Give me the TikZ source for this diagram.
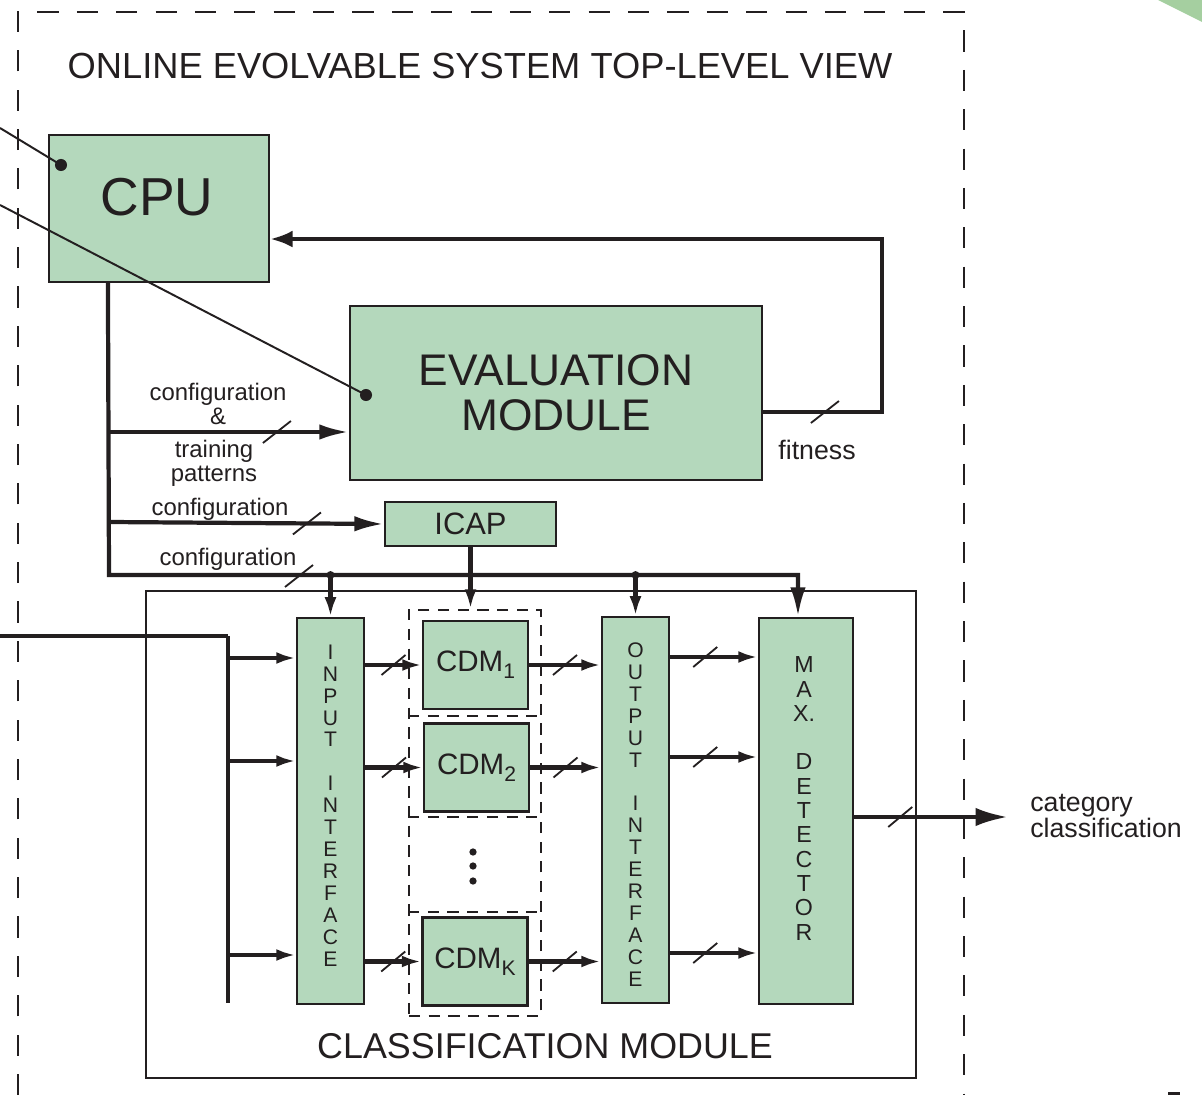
\documentclass[tikz,border=0pt]{standalone}
\usepackage{fontspec}
\setmainfont{Liberation Sans}
\usetikzlibrary{arrows.meta,positioning,calc}

\definecolor{modgreen}{RGB}{180,216,188}
\definecolor{leafgreen}{RGB}{165,207,160}
\definecolor{ink}{RGB}{35,31,32}

\newcommand{\fs}[2]{\fontsize{#1}{#2}\selectfont}
% lowered index for the CDM names
\newcommand{\idx}[1]{\raisebox{-0.45ex}{\fs{15}{15}#1}}
% bus width marks (small and large slash)
\newcommand{\busmark}[1]{\draw[slash] (#1) ++(-12,10) -- ++(24,-20);}
\newcommand{\bigmark}[1]{\draw[slash] (#1) ++(-14,11) -- ++(28,-22);}

\begin{document}
\begin{tikzpicture}[
    x=0.025cm, y=-0.025cm,
    every node/.style={text=ink, inner sep=0pt},
    block/.style={draw=ink, line width=1.5pt, fill=modgreen},
    wire/.style={draw=ink, line width=3pt},
    arr/.style={wire, -{Latex[length=14pt,width=8.5pt]}},
    bigarr/.style={wire, -{Latex[length=21pt,width=11pt]}},
    fbarr/.style={wire, -{Latex[length=16pt,width=12pt]}},
    outarr/.style={wire, -{Latex[length=23pt,width=13pt]}},
    slash/.style={draw=ink, line width=1.3pt},
    probe/.style={draw=ink, line width=1.4pt},
    lbl/.style={font=\fs{17}{17}, align=center},
    letters/.style={align=center, font=\fs{15}{15.6}},
    cdmbox/.style={block, minimum width=2.625cm, minimum height=2.2cm, font=\fs{21}{24}},
    slotline/.style={draw=ink, line width=1.3pt, dash pattern=on 8pt off 6pt}
]
    \useasboundingbox (0,0) rectangle (1202,1095);

    % corner leaf and edge mark
    \fill[leafgreen] (1158,0) -- (1202,0) -- (1202,22) -- cycle;
    \fill[ink] (1168,1092) rectangle (1180,1095);

    % system frame
    \draw[ink, line width=1.4pt, dash pattern=on 15pt off 13pt]
        (18,1095) -- (18,12) -- (964,12) -- (964,1095);
    \node[font=\fs{25.8}{28}] (title) at (480,66) {ONLINE EVOLVABLE SYSTEM TOP-LEVEL VIEW};

    % CPU, evaluation module and ICAP
    \node[block, minimum width=5.5cm, minimum height=3.675cm] (cpu) at (159,208.5) {};
    \node[font=\fs{38}{40}] (cputxt) at (157,197) {CPU};
    \node[block, minimum width=10.3cm, minimum height=4.35cm, align=center, font=\fs{31.5}{32}] (evalm) at (556,393) {EVALUATION\\MODULE};
    \node[block, minimum width=4.275cm, minimum height=1.1cm, font=\fs{22}{24}] (icap) at (470.5,524) {ICAP};

    % classification module
    \node[draw=ink, line width=1.2pt, minimum width=19.25cm, minimum height=12.175cm] (clsmod) at (531,834.5) {};
    \node[font=\fs{25.5}{28}] (clstxt) at (545,1046) {CLASSIFICATION MODULE};

    % CDM slots
    \node[slotline, minimum width=3.3cm, minimum height=10.15cm] (cdmgrp) at (475,813) {};
    \foreach \y in {716,817,912}
        \draw[slotline] (cdmgrp.west |- 0,\y) -- (cdmgrp.east |- 0,\y);
    \node[cdmbox] (cdm1) at (475.5,665) {CDM\idx{1}};
    \node[cdmbox] (cdm2) at (476.5,767.5) {CDM\idx{2}};
    \node[cdmbox] (cdmk) at (475,961.5) {CDM\idx{K}};
    \foreach \y in {852,866,881}
        \fill[ink] (473,\y) circle (2.6pt);

    % interfaces and detector
    \node[block, minimum width=1.675cm, minimum height=9.65cm] (inif) at (330.5,811) {};
    \node[letters] (iniftxt) at (330.5,805.5) {I\\N\\P\\U\\T\\[15.6pt]I\\N\\T\\E\\R\\F\\A\\C\\E};
    \node[block, minimum width=1.675cm, minimum height=9.65cm] (outif) at (635.5,810) {};
    \node[letters] (outiftxt) at (635.5,814.5) {O\\U\\T\\P\\U\\T\\[15.6pt]I\\N\\T\\E\\R\\F\\A\\C\\E};
    \node[block, minimum width=2.35cm, minimum height=9.65cm] (maxdet) at (806,811) {};
    \node[letters, font=\fs{16.5}{17.3}] (maxtxt) at (804,798.5) {M\\A\\X.\\[17.3pt]D\\E\\T\\E\\C\\T\\O\\R};

    % configuration bus
    \draw[bigarr] (cpu.south west) ++(60,0) -- (109,575) coordinate (busbot)
        -| ([xshift=-5.7pt]maxdet.north);
    \draw[bigarr] (109,432) -- coordinate[pos=0.7] (mkeval) (evalm.west |- 0,432);
    \draw[bigarr] (109,522) -- coordinate[pos=0.72] (mkicap) (icap.west);
    \coordinate (mkbus) at (299,576);
    \draw[arr] (inif.north |- busbot) -- (inif.north);
    \draw[arr] (outif.north |- busbot) -- (outif.north);
    \fill[ink] (inif.north |- busbot) circle (2.8pt);
    \fill[ink] (outif.north |- busbot) circle (2.8pt);
    \draw[arr] (icap.south) -- (icap.south |- cdmgrp.north);
    \bigmark{mkeval}
    \bigmark{mkicap}
    \bigmark{mkbus}

    \node[lbl] (cfgeval) at (218,404) {configuration\\\&};
    \node[lbl] (trainlbl) at (214,463) {training\\patterns};
    \node[lbl] (cfgicap) at (220,509) {configuration};
    \node[lbl] (cfgbus) at (228,559) {configuration};

    % fitness feedback
    \draw[fbarr] (evalm.east) ++(0,19) -- coordinate[pos=0.52] (mkfit) (882,412)
        |- ([yshift=-21.7pt]cpu.east);
    \bigmark{mkfit}
    \node[font=\fs{19}{20}] (fitlbl) at (817,450) {fitness};

    % input feed
    \coordinate (feed) at (0,636);
    \draw[ink, line width=2.4pt] (feed) -- (228,636);
    \draw[wire] (228,636) -- (228,1003);
    \foreach \y in {658,761,955}
        \draw[arr] (228,\y) -- (inif.west |- 0,\y);

    % data path through the slots
    \foreach \c in {cdm1,cdm2,cdmk} {
        \draw[arr] (inif.east |- \c.west) -- coordinate[pos=0.5] (mi\c) (\c.west);
        \draw[arr] (\c.east) -- coordinate[pos=0.5] (mo\c) (outif.west |- \c.east);
        \busmark{mi\c}
        \busmark{mo\c}
    }
    \foreach \y [count=\i] in {657,757,953} {
        \draw[arr] (outif.east |- 0,\y) -- coordinate[pos=0.4] (mm\i) (maxdet.west |- 0,\y);
        \busmark{mm\i}
    }

    % classifier output
    \coordinate (catout) at (1008,817);
    \draw[outarr] (maxdet.east |- catout) -- coordinate[pos=0.3] (mkout) (catout);
    \busmark{mkout}
    \node[anchor=west, align=left, font=\fs{19}{18.5}] (catlbl) at (1030,816) {category\\classification};

    % probe lines
    \coordinate (probea) at (0,128);
    \coordinate (probeb) at (0,205);
    \coordinate (cpupin) at (61,165);
    \coordinate (evalpin) at (366,395);
    \draw[probe] (probea) -- (cpupin);
    \draw[probe] (probeb) -- (evalpin);
    \fill[ink] (cpupin) circle (4.3pt);
    \fill[ink] (evalpin) circle (4.3pt);
\end{tikzpicture}
\end{document}
